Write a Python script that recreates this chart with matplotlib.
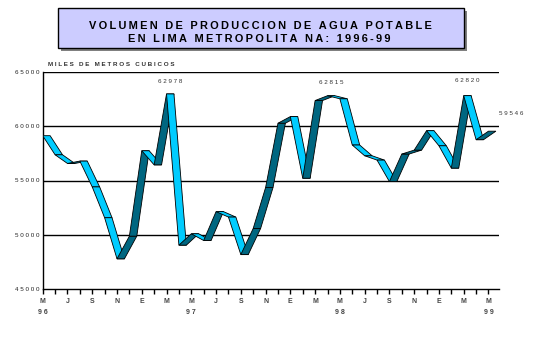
import numpy as np
import matplotlib.pyplot as plt
from matplotlib.patches import Polygon, Rectangle

plt.rcParams['font.family'] = ['Liberation Sans', 'DejaVu Sans']

# monthly production, May 1996 .. May 1999 (thousands of m3)
month_initials = ['M', 'J', 'J', 'A', 'S', 'O', 'N', 'D', 'E', 'F', 'M', 'A'] * 3 + ['M']
volumes = [59130, 57370, 56570, 56790, 54410, 51570, 47780, 49870, 57740, 56440,
           62978, 49040, 50090, 49470, 52130, 51630, 48170, 50580, 54350, 60280,
           60890, 55210, 62370, 62815, 62530, 58270, 57280, 56880, 54900, 57440,
           57800, 59590, 58200, 56140, 62820, 58760, 59546]
year_labels = {0: '96', 12: '97', 24: '98', 36: '99'}
labelled = [10, 23, 34, 36]
label_offsets = [(0, 7), (0, 8), (0, 9), (14, 11)]   # in points
y_ticks = [45000, 50000, 55000, 60000, 65000]

light = '#00CCFF'
dark = '#006680'
depth = 0.6


def spaced(s, sep='\u2009'):
    return sep.join(s)


fig = plt.figure(figsize=(5.33, 3.61), dpi=100)
ax = fig.add_axes([42.7 / 533, 1 - 289 / 361, (499 - 42.7) / 533, 217 / 361])

x = np.arange(len(volumes))
for i in range(len(volumes) - 1):
    x0, x1 = x[i], x[i + 1]
    y0, y1 = volumes[i], volumes[i + 1]
    col = dark if y1 > y0 else light
    ax.add_patch(Polygon([(x0, y0), (x1, y1), (x1 + depth, y1), (x0 + depth, y0)],
                         closed=True, fc=col, ec='black', lw=0.6, zorder=3))

for idx, (dx, dy) in zip(labelled, label_offsets):
    ax.annotate(spaced(f'{volumes[idx]}', ' '), (x[idx] + depth / 2, volumes[idx]),
                xytext=(dx, dy), textcoords='offset points', ha='center', va='bottom',
                fontsize=4.5, color='#333333')

ax.set_xlim(0, 36.85)
ax.set_ylim(45000, 65000)

ax.set_yticks(y_ticks)
ax.set_yticklabels([spaced(str(v), ' ') for v in y_ticks], fontsize=4.5, color='#222222')
ax.tick_params(axis='y', length=0, pad=2.5)
for v in y_ticks[1:]:
    ax.axhline(v, color='black', lw=1, zorder=1)

ax.set_xticks(x)
ax.set_xticklabels([m if i % 2 == 0 else '' for i, m in enumerate(month_initials)],
                   fontsize=5, color='#444444', fontweight='bold')
ax.tick_params(axis='x', length=3.5, width=1, direction='out', pad=3)
for i, yr in year_labels.items():
    ax.text(x[i], -0.106, spaced(yr, ' '), transform=ax.get_xaxis_transform(),
            ha='center', va='center', fontsize=5, color='#444444', fontweight='bold')

for s in ['top', 'right']:
    ax.spines[s].set_visible(False)
ax.spines['left'].set_linewidth(1)
ax.spines['bottom'].set_linewidth(1)

fig.text(47.7 / 533, 1 - 64.7 / 361, spaced('MILES DE METROS CUBICOS', ' '),
         ha='left', va='center', fontsize=4.5, fontweight='bold', color='#333333')

# title box with shadow
bx, by, bw, bh = 57.7 / 533, 1 - 48 / 361, (464 - 57.7) / 533, 40 / 361
fig.patches.append(Rectangle((bx + 3 / 533, by - 3 / 361), bw, bh, transform=fig.transFigure,
                             fc='#808080', ec='none', zorder=0))
fig.patches.append(Rectangle((bx, by), bw, bh, transform=fig.transFigure,
                             fc='#CCCCFF', ec='black', lw=1, zorder=1))
fig.text(0.488, 1 - 26 / 361, spaced('VOLUMEN DE PRODUCCION DE AGUA POTABLE'),
         ha='center', va='center', fontsize=7.9, fontweight='bold')
fig.text(0.486, 1 - 38.5 / 361, spaced('EN LIMA METROPOLITA NA: 1996-99'),
         ha='center', va='center', fontsize=7.9, fontweight='bold')

fig.savefig('out.png', dpi=100)
